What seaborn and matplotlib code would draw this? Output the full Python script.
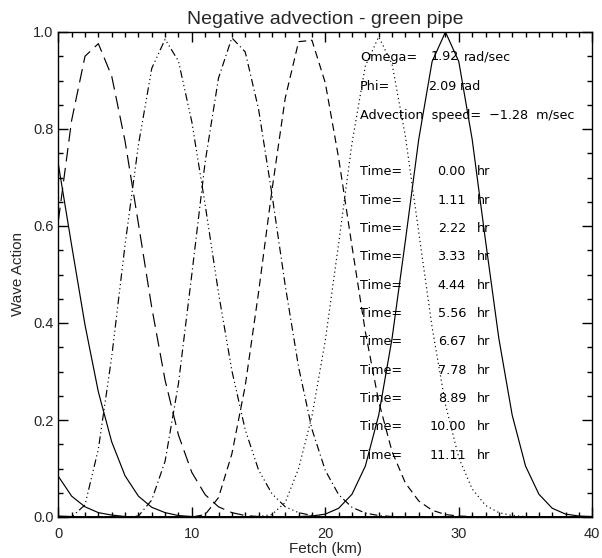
import matplotlib
matplotlib.use("Agg")
import matplotlib.pyplot as plt
from matplotlib.ticker import MultipleLocator, FormatStrFormatter
import seaborn as sns
import pandas as pd

# ---------------- data ----------------
fetch_km = list(range(0, 41))

time_labels = ["0.00", "1.11", "2.22", "3.33", "4.44", "5.56",
               "6.67", "7.78", "8.89", "10.00", "11.11"]

wave_t0 = [0, 0, 0, 0, 0, 0, 0, 0, 0, 0, 0, 0, 0, 0, 0, 0, 0, 0,
           0.001, 0.002, 0.006, 0.018, 0.047, 0.105, 0.210, 0.368, 0.570, 0.779,
           0.939, 1.000, 0.939, 0.779, 0.570, 0.368, 0.210, 0.105, 0.047, 0.018,
           0.006, 0.002, 0.001]
wave_t1 = [0, 0, 0, 0, 0, 0, 0, 0, 0, 0, 0, 0, 0, 0, 0,
           0.001, 0.005, 0.030, 0.100, 0.208, 0.364, 0.564, 0.771, 0.930, 0.990,
           0.934, 0.785, 0.587, 0.391, 0.232, 0.122, 0.058, 0.024, 0.009, 0.003,
           0.001, 0, 0, 0, 0, 0]
wave_t2 = [0, 0, 0, 0, 0, 0, 0, 0, 0, 0, 0,
           0.005, 0.040, 0.130, 0.270, 0.463, 0.673, 0.864, 0.980, 0.983, 0.895,
           0.740, 0.558, 0.382, 0.238, 0.135, 0.070, 0.033, 0.014, 0.005, 0.002,
           0.001, 0, 0, 0, 0, 0, 0, 0, 0, 0]
wave_t3 = [0, 0, 0, 0, 0, 0,
           0.002, 0.035, 0.115, 0.275, 0.500, 0.732, 0.905, 0.988, 0.959, 0.841,
           0.666, 0.477, 0.309, 0.181, 0.096, 0.046, 0.020, 0.008, 0.003, 0.001,
           0, 0, 0, 0, 0, 0, 0, 0, 0, 0, 0, 0, 0, 0, 0]
wave_t4 = [0, 0, 0.025, 0.140, 0.330, 0.561, 0.767, 0.925, 0.985, 0.940,
           0.815, 0.644, 0.462, 0.302, 0.180, 0.097, 0.048, 0.021, 0.009, 0.003,
           0.001, 0, 0, 0, 0, 0, 0, 0, 0, 0, 0, 0, 0, 0, 0, 0, 0, 0, 0, 0, 0]
wave_t5 = [0.610, 0.818, 0.950, 0.976, 0.909, 0.775, 0.605, 0.432, 0.282, 0.169,
           0.092, 0.046, 0.021, 0.009, 0.003, 0.001,
           0, 0, 0, 0, 0, 0, 0, 0, 0, 0, 0, 0, 0, 0, 0, 0, 0, 0, 0, 0, 0, 0, 0, 0, 0]
wave_t6 = [0.728, 0.560, 0.396, 0.258, 0.155, 0.085, 0.043, 0.020, 0.009, 0.003,
           0.001, 0, 0, 0, 0, 0, 0, 0, 0, 0, 0, 0, 0, 0, 0, 0, 0, 0, 0, 0,
           0, 0, 0, 0, 0, 0, 0, 0, 0, 0, 0]
wave_t7 = [0.084, 0.043, 0.021, 0.009, 0.004, 0.001, 0, 0, 0, 0,
           0, 0, 0, 0, 0, 0, 0, 0, 0, 0, 0, 0, 0, 0, 0, 0, 0, 0, 0, 0,
           0, 0, 0, 0, 0, 0, 0, 0, 0, 0, 0]
wave_t8 = [0.002, 0.001, 0, 0, 0, 0, 0, 0, 0, 0,
           0, 0, 0, 0, 0, 0, 0, 0, 0, 0, 0, 0, 0, 0, 0, 0, 0, 0, 0, 0,
           0, 0, 0, 0, 0, 0, 0, 0, 0, 0, 0]
wave_t9 = [0, 0, 0, 0, 0, 0, 0, 0, 0, 0,
           0, 0, 0, 0, 0, 0, 0, 0, 0, 0, 0, 0, 0, 0, 0, 0, 0, 0, 0, 0,
           0, 0, 0, 0, 0, 0, 0, 0, 0, 0, 0]
wave_t10 = [0, 0, 0, 0, 0, 0, 0, 0, 0, 0,
            0, 0, 0, 0, 0, 0, 0, 0, 0, 0, 0, 0, 0, 0, 0, 0, 0, 0, 0, 0,
            0, 0, 0, 0, 0, 0, 0, 0, 0, 0, 0]

series = [wave_t0, wave_t1, wave_t2, wave_t3, wave_t4, wave_t5,
          wave_t6, wave_t7, wave_t8, wave_t9, wave_t10]

omega_text = "1.92"
phi_text = "2.09"
speed_text = "\u22121.28"

# ---------------- long table ----------------
rows = []
for lab, vals in zip(time_labels, series):
    for x, v in zip(fetch_km, vals):
        rows.append({"fetch": x, "wave": v, "time": lab})
df = pd.DataFrame(rows)

LW = 0.85
# IDL-like line styles: solid, dotted, dashed, dash-dot, dash-dot-dot-dot, long dash, then solid
dash_codes = ["", (1.0, 2.6), (6.5, 4.0), (6.5, 2.8, 1.0, 2.8),
              (6.5, 2.6, 1.0, 2.6, 1.0, 2.6, 1.0, 2.6), (11.5, 5.5),
              "", "", "", "", ""]
dashes = {lab: d for lab, d in zip(time_labels, dash_codes)}
palette = {lab: "black" for lab in time_labels}

# ---------------- figure ----------------
sns.set_style("ticks")
plt.rcParams["font.family"] = ["Liberation Sans", "DejaVu Sans"]

W, H = 602, 558
fig = plt.figure(figsize=(W / 100, H / 100), dpi=100)
x0p, x1p, y0p, y1p = 58.3, 592.3, 32.0, 517.0
ax = fig.add_axes([x0p / W, 1 - y1p / H, (x1p - x0p) / W, (y1p - y0p) / H])

sns.lineplot(data=df, x="fetch", y="wave", hue="time", style="time",
             hue_order=time_labels, style_order=time_labels,
             palette=palette, dashes=dashes, linewidth=LW,
             estimator=None, sort=False, legend=False, ax=ax)

ax.set_xlim(0, 40)
ax.set_ylim(0, 1.0)
ax.xaxis.set_major_locator(MultipleLocator(10))
ax.xaxis.set_minor_locator(MultipleLocator(1))
ax.yaxis.set_major_locator(MultipleLocator(0.2))
ax.yaxis.set_minor_locator(MultipleLocator(0.05))
ax.yaxis.set_major_formatter(FormatStrFormatter("%.1f"))
ax.tick_params(which="both", direction="in", top=True, right=True,
               color="black", width=1.0)
ax.tick_params(which="major", length=7, labelsize=10.5)
ax.tick_params(axis="x", which="major", pad=7)
ax.tick_params(axis="y", which="major", pad=3.5)
ax.tick_params(which="minor", length=3.5)
for s in ax.spines.values():
    s.set_linewidth(1.0)
    s.set_color("black")

ax.set_xlabel("Fetch (km)", fontsize=11, labelpad=1)
ax.set_ylabel("Wave Action", fontsize=11, labelpad=6)
ax.set_title("Negative advection - green pipe", fontsize=14, pad=6)

# ---------------- annotations ----------------
def fx(px):
    return (px - x0p) / 13.35

def fy(py):
    return (y1p - py) / 485.0

tfont = dict(family=["DejaVu Sans"], fontsize=9.2, color="black", va="center")
ax.text(fx(360), fy(57), "Omega=", ha="left", **tfont)
ax.text(fx(431), fy(57), omega_text, ha="left", **tfont)
ax.text(fx(464), fy(57), "rad/sec", ha="left", **tfont)
ax.text(fx(360), fy(86), "Phi=", ha="left", **tfont)
ax.text(fx(428), fy(86), phi_text, ha="left", **tfont)
ax.text(fx(460), fy(86), "rad", ha="left", **tfont)
ax.text(fx(360), fy(115), "Advection  speed=  " + speed_text + "  m/sec", ha="left", **tfont)
for k, lab in enumerate(time_labels):
    yy = 171.7 + 28.35 * k
    ax.text(fx(360), fy(yy), "Time=", ha="left", **tfont)
    ax.text(fx(466), fy(yy), lab, ha="right", **tfont)
    ax.text(fx(477), fy(yy), "hr", ha="left", **tfont)

fig.savefig("out.png", dpi=100)
